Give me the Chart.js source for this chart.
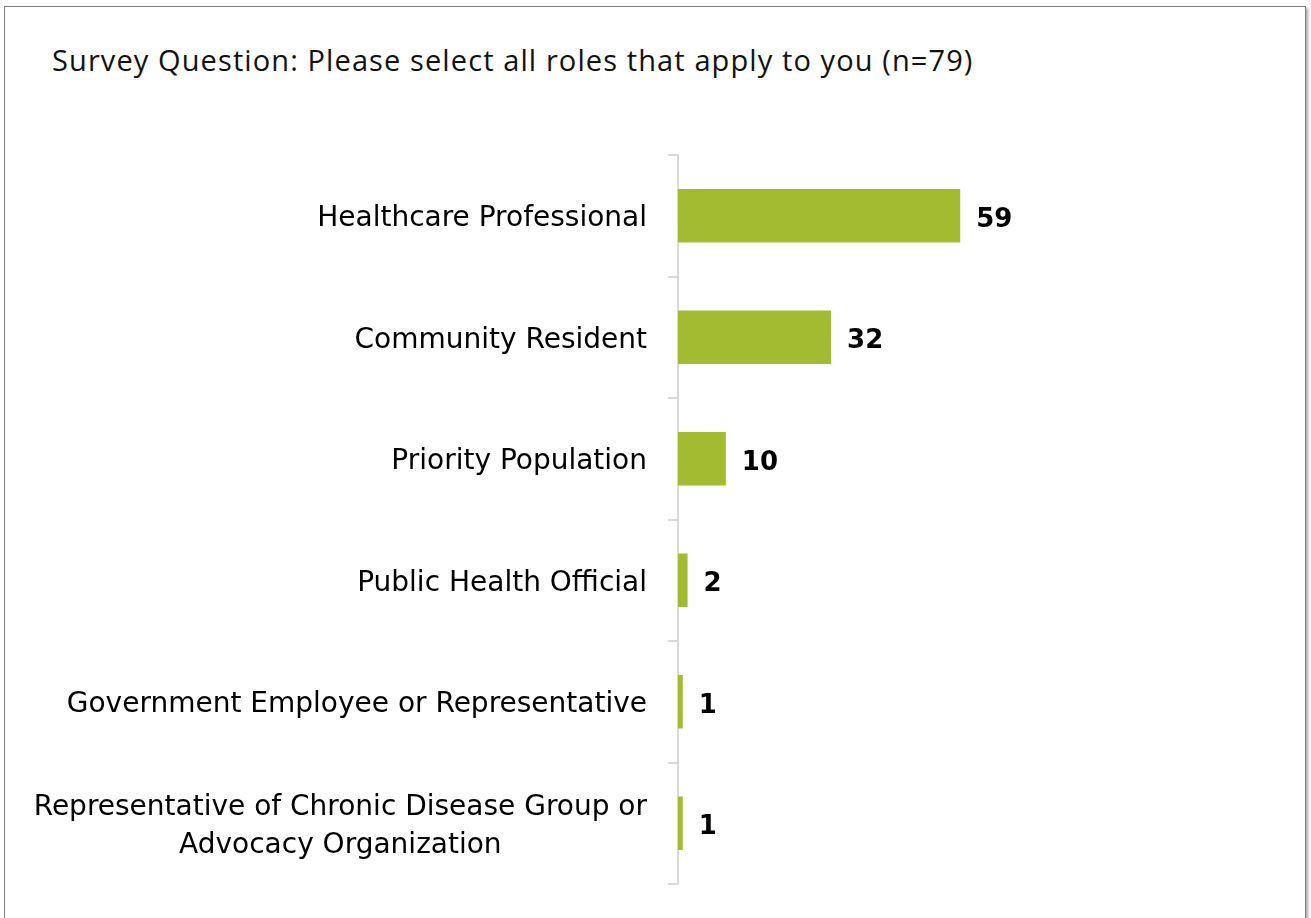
<!DOCTYPE html>
<html lang="en">
<head>
<meta charset="utf-8">
<title>Survey roles</title>
<script src="https://cdn.jsdelivr.net/npm/chart.js@4/dist/chart.umd.min.js"></script>
<style>
  html, body {
    margin: 0;
    padding: 0;
    background: #fff;
    overflow: hidden;
  }
  .c-chart {
    position: relative;
    width: 1311px;
    height: 918px;
  }
  .c-chart__frame {
    position: absolute;
    left: 4px;
    top: 6px;
    width: 1300px;
    height: 940px;
    border: 1px solid #7f7f7f;
    box-shadow: 2px 2px 3px rgba(0, 0, 0, 0.35);
    pointer-events: none;
  }
  .c-chart__title {
    position: absolute;
    left: 52px;
    top: 40px;
    margin: 0;
    font-family: "Open Sans", sans-serif;
    font-weight: 400;
    font-size: 29px;
    letter-spacing: 1.1px;
    line-height: 40px;
    color: #111;
    white-space: nowrap;
  }
  #chart {
    position: absolute;
    left: 0;
    top: 0;
  }
</style>
</head>
<body>
<div class="c-chart">
  <div class="c-chart__frame"></div>
  <p class="c-chart__title">Survey Question: Please select all roles that apply to you (n=79)</p>
  <canvas id="chart" width="1311" height="918"></canvas>
</div>

<script>
  // categories, top to bottom
  const roles = [
    ['Healthcare Professional'],
    ['Community Resident'],
    ['Priority Population'],
    ['Public Health Official'],
    ['Government Employee or Representative'],
    ['Representative of Chronic Disease Group or', 'Advocacy Organization']
  ];

  // respondents per role
  const counts = [59, 32, 10, 2, 1, 1];

  const barColor = '#a2bb31';
  const axisColor = '#d9d9d9';
  const labelFont = '28px Tahoma, "DejaVu Sans", sans-serif';
  const valueFont = 'bold 26px Verdana, "DejaVu Sans", sans-serif';

  /**
   * @description Category labels, right edge fixed, multi-line labels centred as a block.
   */
  const roleLabels = {
    id: 'roleLabels',
    afterDraw: (chart) => {
      const ctx = chart.ctx,
        yScale = chart.scales.y,
        rightEdge = chart.chartArea.left - 31,
        lineHeight = 38;

      ctx.save();
      ctx.font = labelFont;
      ctx.fillStyle = '#000';
      ctx.textAlign = 'center';
      ctx.textBaseline = 'middle';

      roles.forEach((lines, i) => {
        const cy = yScale.getPixelForValue(i) + 3,
          widest = Math.max(...lines.map((l) => ctx.measureText(l).width)),
          cx = rightEdge - widest / 2,
          startY = cy - (lines.length - 1) * lineHeight / 2;

        lines.forEach((line, j) => {
          ctx.fillText(line, cx, startY + j * lineHeight);
        });
      });
      ctx.restore();
    }
  };

  /**
   * @description Value printed to the right of every bar.
   */
  const barValues = {
    id: 'barValues',
    afterDatasetsDraw: (chart) => {
      const ctx = chart.ctx,
        meta = chart.getDatasetMeta(0);

      ctx.save();
      ctx.font = valueFont;
      ctx.fillStyle = '#000';
      ctx.textAlign = 'left';
      ctx.textBaseline = 'middle';

      meta.data.forEach((bar, i) => {
        ctx.fillText(String(counts[i]), bar.x + 16, bar.y + 4);
      });
      ctx.restore();
    }
  };

  const initChart = () => {
    const canvas = document.getElementById('chart');

    new Chart(canvas, {
      type: 'bar',
      data: {
        labels: roles.map((l) => l.join(' ')),
        datasets: [{
          data: counts,
          backgroundColor: barColor,
          borderWidth: 0,
          categoryPercentage: 1,
          barPercentage: 0.44
        }]
      },
      options: {
        indexAxis: 'y',
        responsive: false,
        animation: false,
        events: [],
        layout: {
          padding: { top: 155, bottom: 34, left: 0, right: 59 }
        },
        plugins: {
          legend: { display: false },
          tooltip: { enabled: false },
          title: { display: false }
        },
        scales: {
          x: {
            display: false,
            min: 0,
            max: 120
          },
          y: {
            offset: true,
            afterFit: (scale) => {
              scale.width = 678;
            },
            border: {
              display: true,
              color: axisColor,
              width: 2
            },
            grid: {
              offset: true,
              drawOnChartArea: false,
              drawTicks: true,
              tickLength: 10,
              color: axisColor,
              lineWidth: 2
            },
            ticks: {
              display: false
            }
          }
        }
      },
      plugins: [roleLabels, barValues]
    });
  };

  initChart();
</script>
</body>
</html>
